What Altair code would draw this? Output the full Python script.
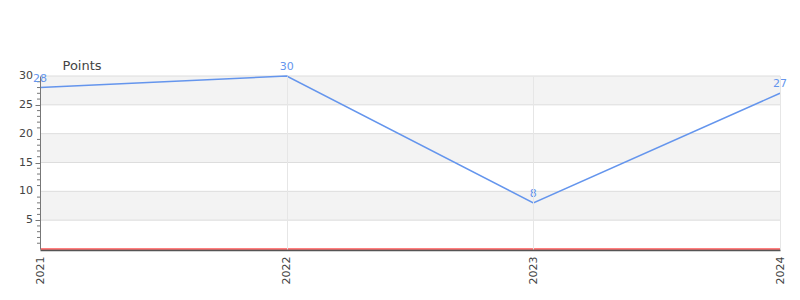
import altair as alt
import pandas as pd

years = [2021, 2022, 2023, 2024]
points = [28, 30, 8, 27]
band_lo = [5, 15, 25]
band_hi = [10, 20, 30]
major_ticks = [5, 10, 15, 20, 25, 30]
minor_ticks = [v for v in range(1, 30) if v % 5 != 0]

df = pd.DataFrame({"year": years, "points": points})
bands = pd.DataFrame({"lo": band_lo, "hi": band_hi})
grid = pd.DataFrame({"g": major_ticks})
minor = pd.DataFrame({"m": minor_ticks})

LINE = "#6495ED"
AXIS = "#777777"

xscale = alt.Scale(domain=[2021, 2024], nice=False, zero=False)
yscale = alt.Scale(domain=[0, 30], nice=False)

yaxis = alt.Axis(
    values=major_ticks,
    labels=False,
    tickSize=5,
    grid=False,
    zindex=1,
    tickColor=AXIS,
    domainColor=AXIS,
    title="Points",
    titleAngle=0,
    titleAlign="left",
    titleBaseline="bottom",
    titleX=22,
    titleY=-4,
    titleFontSize=13,
    titleFontWeight="normal",
    titleColor="#444444",
)

band_layer = alt.Chart(bands).mark_rect(fill="#f3f3f3").encode(
    y=alt.Y("lo:Q", scale=yscale, axis=yaxis),
    y2="hi:Q",
    x=alt.value(0),
    x2=alt.value(740),
)

grid_layer = alt.Chart(grid).mark_rule(color="#dddddd", strokeWidth=1).encode(
    y=alt.Y("g:Q", scale=yscale),
)

ylabel_layer = alt.Chart(grid).mark_text(
    color="#444444", fontSize=11, align="right", baseline="middle"
).encode(
    y=alt.Y("g:Q", scale=yscale),
    x=alt.value(-7),
    text=alt.Text("g:Q", format="d"),
)

minor_layer = alt.Chart(minor).mark_rule(color=AXIS, strokeWidth=1).encode(
    y=alt.Y("m:Q", scale=yscale),
    x=alt.value(-3),
    x2=alt.value(0),
)

line_layer = alt.Chart(df).mark_line(color=LINE, strokeWidth=1.5).encode(
    x=alt.X("year:Q", scale=xscale,
            axis=alt.Axis(values=years, format="d", labelAngle=270,
                          labelAlign="right", labelBaseline="middle",
                          labelOverlap=False,
                          ticks=False, labelPadding=6, zindex=1,
                          gridColor="#e6e6e6", domainColor="#555555",
                          domainWidth=1.5,
                          labelColor="#444444", labelFontSize=11, title=None,
                          offset=1)),
    y=alt.Y("points:Q", scale=yscale),
)

text_layer = alt.Chart(df).mark_text(color=LINE, fontSize=11, dy=-9).encode(
    x=alt.X("year:Q", scale=xscale),
    y=alt.Y("points:Q", scale=yscale),
    text=alt.Text("points:Q"),
)

zero_rule = alt.Chart(pd.DataFrame({"z": [0]})).mark_rule(color="#ff0000", strokeWidth=1.2).encode(
    y=alt.Y("z:Q", scale=yscale),
)

chart = alt.layer(band_layer, grid_layer, minor_layer, ylabel_layer,
                  line_layer, text_layer, zero_rule).properties(
    width=740, height=173,
    padding={"left": 40, "top": 76, "right": 20, "bottom": 51},
    autosize=alt.AutoSizeParams(type="none"),
).configure_view(stroke=None).configure(font="DejaVu Sans")

chart.save("out.html", embed_options={"renderer": "svg", "actions": False})
